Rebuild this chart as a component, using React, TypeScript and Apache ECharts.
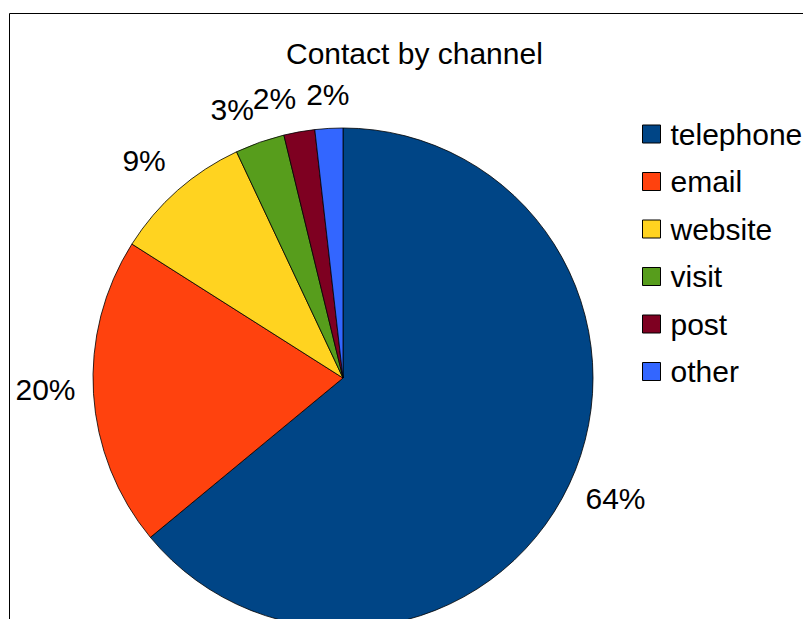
import React, { useEffect, useRef } from "react";
import * as echarts from "echarts";

const categories = ["telephone", "email", "website", "visit", "post", "other"];
const values = [640, 200, 90, 32, 20, 18];
const colors = ["#004586", "#ff420e", "#ffd320", "#579d1c", "#7e0021", "#3366ff"];
const titleText = "Contact by channel";

const FONT = "'Liberation Sans', Arial, sans-serif";
const CX = 343;
const CY = 378;
const R = 250;
const LABEL_DIST = 268;
const LABEL_DY = -5;

export default function App() {
  const ref = useRef<HTMLDivElement>(null);

  useEffect(() => {
    document.body.style.margin = "0";
    const chart = echarts.init(ref.current!, null, { renderer: "svg" });
    const total = values.reduce((a, b) => a + b, 0);
    const mids: number[] = [];
    let cum = 0;
    values.forEach((v) => {
      mids.push(((cum + v / 2) / total) * Math.PI * 2);
      cum += v;
    });

    chart.setOption({
      animation: false,
      backgroundColor: "#ffffff",
      title: {
        text: titleText,
        left: 286,
        top: 38,
        padding: 0,
        textStyle: { fontFamily: FONT, fontSize: 30, fontWeight: "normal", color: "#000" },
      },
      legend: {
        orient: "vertical",
        left: 642,
        top: 119,
        padding: 0,
        itemWidth: 18,
        itemHeight: 18,
        itemGap: 17.5,
        icon: "rect",
        data: categories,
        itemStyle: { borderColor: "#000", borderWidth: 1 },
        textStyle: {
          fontFamily: FONT,
          fontSize: 30,
          lineHeight: 30,
          color: "#000",
          padding: [0, 0, 0, 5],
        },
      },
      graphic: [
        {
          type: "rect",
          shape: { x: 9.5, y: 13.5, width: 1000, height: 1000 },
          style: { fill: "none", stroke: "#000", lineWidth: 1 },
          silent: true,
        },
      ],
      series: [
        {
          type: "pie",
          center: [CX, CY],
          radius: R,
          startAngle: 90,
          clockwise: true,
          data: categories.map((c, i) => ({
            name: c,
            value: values[i],
            itemStyle: { color: colors[i] },
          })),
          itemStyle: { borderColor: "#000", borderWidth: 0.8 },
          emphasis: { disabled: true },
          label: {
            show: true,
            position: "inside",
            formatter: (p: any) => Math.round(p.percent) + "%",
            fontFamily: FONT,
            fontSize: 30,
            lineHeight: 22,
            color: "#000",
            textBorderWidth: 0,
          },
          labelLine: { show: false },
          labelLayout: (params: any) => {
            const a = mids[params.dataIndex];
            const s = Math.sin(a);
            const c = Math.cos(a);
            const align = s > 0.1 ? "left" : s < -0.1 ? "right" : "center";
            const verticalAlign = c > 0.1 ? "bottom" : c < -0.1 ? "top" : "middle";
            return {
              x: CX + LABEL_DIST * s,
              y: CY - LABEL_DIST * c + LABEL_DY,
              align,
              verticalAlign,
            };
          },
        },
      ],
    });
    return () => chart.dispose();
  }, []);

  return <div ref={ref} style={{ width: 803, height: 619 }} />;
}
